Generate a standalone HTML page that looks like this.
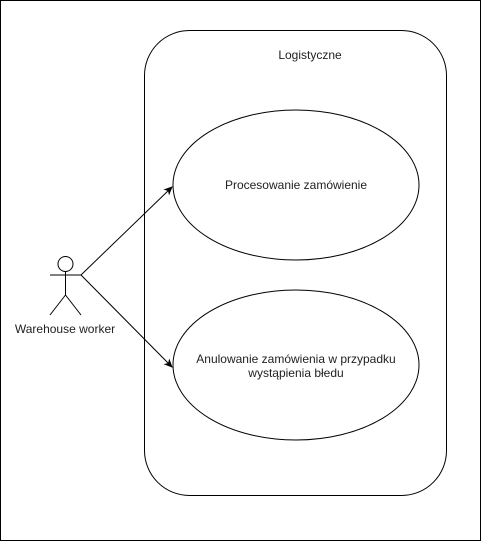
<!DOCTYPE html>
<html><head><style>body{margin:0;background:#fff}</style></head><body>
<svg width="481" height="541" xmlns="http://www.w3.org/2000/svg" style="display:block">
<defs><marker id="a" markerWidth="10" markerHeight="10" refX="8" refY="5" orient="auto" markerUnits="userSpaceOnUse"><path d="M0,1 L9,5 L0,9 L2.5,5 Z" fill="#000"/></marker></defs>
<rect x="0.5" y="0.5" width="480" height="540" fill="#fff" stroke="#000"/>
<rect x="144.5" y="30.5" width="302" height="465" rx="45" ry="45" fill="none" stroke="#000"/>
<ellipse cx="296" cy="185" rx="123" ry="75" fill="#fff" stroke="#000"/>
<ellipse cx="296" cy="365" rx="123" ry="75" fill="#fff" stroke="#000"/>
<g font-family="Liberation Sans, sans-serif" font-size="12" fill="#222" text-anchor="middle">
<text x="310" y="59">Logistyczne</text>
<text x="296" y="189">Procesowanie zamówienie</text>
<text x="296" y="363">Anulowanie zamówienia w przypadku</text>
<text x="296" y="377">wystąpienia błedu</text>
<text x="65" y="333">Warehouse worker</text>
</g>
<g stroke="#000" fill="none">
<circle cx="65.5" cy="264" r="7.5" fill="#fff"/>
<line x1="65.5" y1="271.5" x2="65.5" y2="295"/>
<line x1="50" y1="275" x2="81" y2="275"/>
<line x1="65.5" y1="295" x2="50" y2="315"/>
<line x1="65.5" y1="295" x2="81" y2="315"/>
<line x1="81" y1="275" x2="172" y2="187" marker-end="url(#a)"/>
<line x1="81" y1="275" x2="172" y2="367" marker-end="url(#a)"/>
</g>
</svg>
</body></html>
